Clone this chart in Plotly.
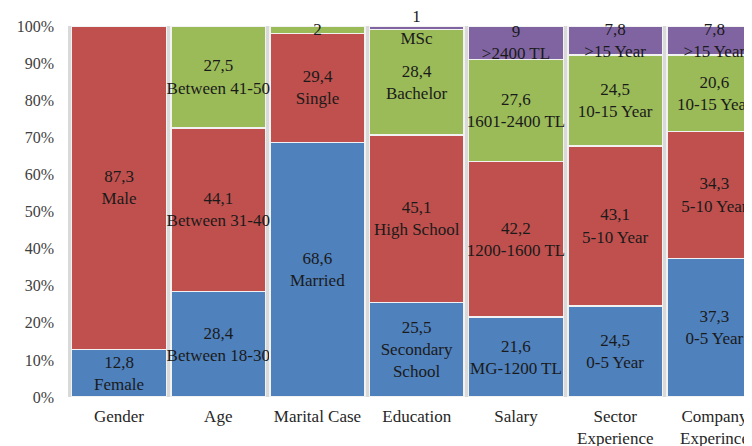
import plotly.graph_objects as go

categories = ["Gender", "Age", "Marital Case", "Education", "Salary",
              "Sector<br>Experience", "Company<br>Experince"]

s1_values = [12.8, 28.4, 68.6, 25.5, 21.6, 24.5, 37.3]
s1_names = ["Female", "Between 18-30", "Married", "Secondary<br>School",
            "MG-1200 TL", "0-5 Year", "0-5 Year"]

s2_values = [87.3, 44.1, 29.4, 45.1, 42.2, 43.1, 34.3]
s2_names = ["Male", "Between 31-40", "Single", "High School",
            "1200-1600 TL", "5-10 Year", "5-10 Year"]

s3_values = [None, 27.5, 2, 28.4, 27.6, 24.5, 20.6]
s3_names = ["", "Between 41-50", "", "Bachelor", "1601-2400 TL",
            "10-15 Year", "10-15 Year"]

s4_values = [None, None, None, 1, 9, 7.8, 7.8]
s4_names = ["", "", "", "MSc", ">2400 TL", ">15 Year", ">15 Year"]

colors = ["#4F81BD", "#C0504D", "#9BBB59", "#8064A2"]
tick_vals = [0, 10, 20, 30, 40, 50, 60, 70, 80, 90, 100]
tick_text = [f"{v}%" for v in tick_vals]


def fmt(v):
    if v is None:
        return ""
    if float(v).is_integer():
        return str(int(v))
    return str(v).replace(".", ",")


def labels(values, names):
    out = []
    for v, n in zip(values, names):
        if v is None:
            out.append("")
        elif n:
            out.append(f"{fmt(v)}<br>{n}")
        else:
            out.append(fmt(v))
    return out


FONT = "Liberation Serif, Times New Roman, serif"

fig = go.Figure()
for vals, names, col in zip([s1_values, s2_values, s3_values, s4_values],
                            [s1_names, s2_names, s3_names, s4_names],
                            colors):
    fig.add_trace(go.Bar(
        x=categories, y=vals, text=labels(vals, names),
        textposition="inside", insidetextanchor="middle",
        constraintext="none", textangle=0, cliponaxis=False,
        textfont=dict(family=FONT, size=17, color="#1a1a1a"),
        marker=dict(color=col, line=dict(color="#f2f2f2", width=1.5)),
        hoverinfo="skip",
    ))

# the page body has an 8px margin, so the figure is shrunk by 8px on each axis
fig.update_layout(
    barmode="stack", barnorm="percent", bargap=0.045,
    width=744, height=438,
    margin=dict(l=60, r=0, t=18, b=49),
    paper_bgcolor="white", plot_bgcolor="#d9d9d9",
    showlegend=False,
    font=dict(family=FONT, size=16, color="#404040"),
)
fig.update_xaxes(range=[-0.514, 6.378], showgrid=False, ticks="",
                 automargin=False, ticklabelstandoff=7,
                 tickfont=dict(family=FONT, size=17, color="#262626"),
                 showline=False, zeroline=False)
fig.update_yaxes(range=[0, 100], tickvals=tick_vals, ticktext=tick_text,
                 showgrid=False, zeroline=False, ticks="", ticklabelstandoff=13,
                 automargin=False,
                 tickfont=dict(family=FONT, size=16, color="#404040"))

fig.write_html("out.html")
